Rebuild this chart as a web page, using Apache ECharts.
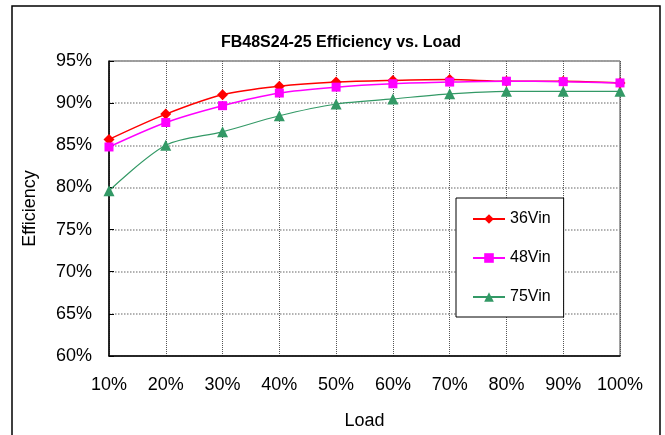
<!DOCTYPE html>
<html>
<head>
<meta charset="utf-8">
<script src="https://cdn.jsdelivr.net/npm/echarts@6/dist/echarts.min.js"></script>
<style>html,body{margin:0;padding:0;background:#fff;}#c{width:665px;height:435px;}</style>
</head>
<body>
<div id="c"></div>
<script>
var loads = [10, 20, 30, 40, 50, 60, 70, 80, 90, 100];
var eff36 = [85.7, 88.7, 91.0, 92.0, 92.5, 92.7, 92.8, 92.6, 92.6, 92.4];
var eff48 = [84.8, 87.7, 89.7, 91.2, 91.9, 92.3, 92.5, 92.6, 92.55, 92.4];
var eff75 = [79.6, 85.0, 86.6, 88.5, 89.9, 90.5, 91.1, 91.4, 91.4, 91.4];
var seriesNames = ['36Vin', '48Vin', '75Vin'];
var yTicks = [60, 65, 70, 75, 80, 85, 90, 95];

function pairs(v){ return loads.map(function(x,i){ return [x, v[i]]; }); }

var chart = echarts.init(document.getElementById('c'), null, {renderer:'canvas'});
var font = 'Arial, "Liberation Sans", sans-serif';
chart.setOption({
  animation: false,
  backgroundColor: '#fff',
  graphic: [{
    type: 'rect', shape: {x: 12, y: 6, width: 648, height: 440},
    style: {fill: 'none', stroke: '#000', lineWidth: 1.5}, z: 100, silent: true
  }],
  title: {
    text: 'FB48S24-25 Efficiency vs. Load',
    left: 336, top: 30, textAlign: 'center',
    textStyle: {fontFamily: font, fontSize: 16, fontWeight: 'bold', color: '#000'}
  },
  grid: {left: 109, right: 45, top: 61, bottom: 79, show: true, borderColor: '#444', borderWidth: 1, backgroundColor: 'transparent'},
  legend: {
    orient: 'vertical', left: 456, top: 198,
    padding: [12, 13, 11, 16], itemGap: 21, itemWidth: 32, itemHeight: 12,
    backgroundColor: '#fff', borderColor: '#000', borderWidth: 1,
    textStyle: {fontFamily: font, fontSize: 16, color: '#000', lineHeight: 18},
    data: seriesNames
  },
  xAxis: {
    type: 'value', min: 10, max: 100, interval: 10,
    name: 'Load', nameLocation: 'middle', nameGap: 56,
    nameTextStyle: {fontFamily: font, fontSize: 18, color: '#000'},
    axisLine: {show: true, lineStyle: {color: '#000', width: 1.5}},
    axisTick: {show: false},
    axisLabel: {formatter: '{value}%', fontFamily: font, fontSize: 18, color: '#000', margin: 20},
    splitLine: {show: true, lineStyle: {color: '#555', type: 'dotted', width: 1}}
  },
  yAxis: {
    type: 'value', min: yTicks[0], max: yTicks[yTicks.length-1], interval: 5,
    name: 'Efficiency', nameLocation: 'middle', nameGap: 70, nameRotate: 90,
    nameTextStyle: {fontFamily: font, fontSize: 18, color: '#000'},
    axisLine: {show: true, lineStyle: {color: '#000', width: 1.5}},
    axisTick: {show: true, inside: true, length: 5, lineStyle: {color: '#000'}},
    axisLabel: {formatter: '{value}%', fontFamily: font, fontSize: 18, color: '#000', margin: 17},
    splitLine: {show: true, lineStyle: {color: '#999', type: 'dotted', width: 1.5}}
  },
  series: [
    {name: seriesNames[0], type: 'line', data: pairs(eff36), smooth: 0.3,
     symbol: 'diamond', symbolSize: 11, itemStyle: {color: '#FF0000'},
     lineStyle: {color: '#FF0000', width: 1.5}, z: 3},
    {name: seriesNames[1], type: 'line', data: pairs(eff48), smooth: 0.3,
     symbol: 'rect', symbolSize: 9, itemStyle: {color: '#FF00FF'},
     lineStyle: {color: '#FF00FF', width: 1.5}, z: 4},
    {name: seriesNames[2], type: 'line', data: pairs(eff75), smooth: 0.3,
     symbol: 'triangle', symbolSize: 11, itemStyle: {color: '#339966'},
     lineStyle: {color: '#339966', width: 1.2}, z: 2}
  ]
});
</script>
</body>
</html>
